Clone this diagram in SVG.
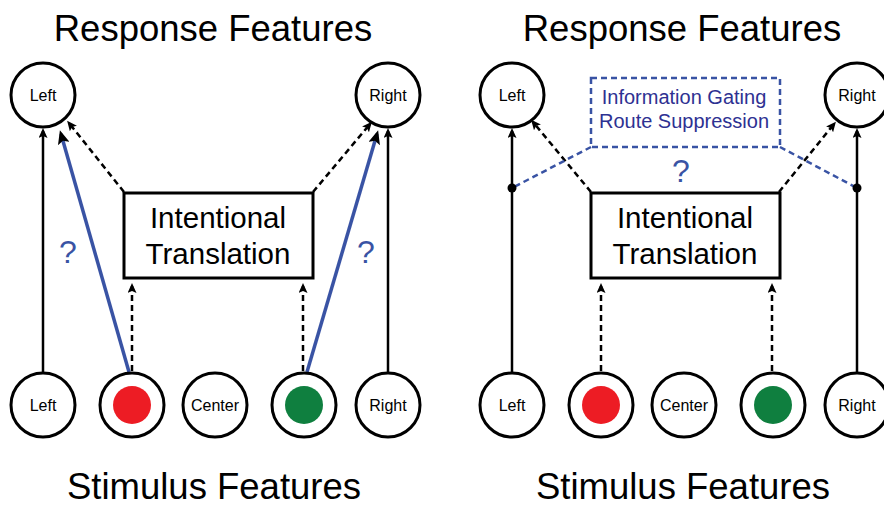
<svg xmlns="http://www.w3.org/2000/svg" width="884" height="507" viewBox="0 0 884 507">
<style>
text{font-family:"Liberation Sans",Arial,sans-serif;text-anchor:middle}
.title{font-size:36.5px;fill:#000}
.lbl{font-size:16px;fill:#000}
.box{fill:#fff;stroke:#000;stroke-width:3}
.node{fill:#fff;stroke:#000;stroke-width:3}
.solid{stroke:#000;stroke-width:2.5;fill:none}
.dash{stroke:#000;stroke-width:2.5;fill:none;stroke-dasharray:6 4}
.blue{stroke:#3953a4;stroke-width:3.5;fill:none}
.bdash{stroke:#3953a4;stroke-width:2.5;fill:none;stroke-dasharray:6 4}
.big{font-size:29.5px;fill:#000}
.q{font-size:32px;fill:#3953a4}
.gate{font-size:20px;fill:#2e3192}
</style>
<defs>
<marker id="ah" markerUnits="userSpaceOnUse" markerWidth="10" markerHeight="9" refX="7" refY="4.5" orient="auto">
<path d="M0,0 L10,4.5 L0,9 L2,4.5 z" fill="#000"/>
</marker>
<marker id="ahb" markerUnits="userSpaceOnUse" markerWidth="14" markerHeight="12" refX="10" refY="6" orient="auto">
<path d="M0,0 L14,6 L0,12 L3,6 z" fill="#000"/>
</marker>
</defs>

<text class="title" x="213" y="41">Response Features</text>
<text class="title" x="682" y="41">Response Features</text>
<text class="title" x="214" y="499">Stimulus Features</text>
<text class="title" x="683" y="499">Stimulus Features</text>

<g id="connectors">
<line class="solid" x1="43" y1="372" x2="43" y2="131" marker-end="url(#ah)"/>
<line class="solid" x1="388" y1="372" x2="388" y2="131" marker-end="url(#ah)"/>
<line class="blue" x1="129" y1="372" x2="61" y2="134" marker-end="url(#ahb)"/>
<line class="blue" x1="307" y1="372" x2="377" y2="134" marker-end="url(#ahb)"/>
<line class="dash" x1="124" y1="192" x2="69" y2="123" marker-end="url(#ah)"/>
<line class="dash" x1="313" y1="192" x2="370" y2="124" marker-end="url(#ah)"/>
<line class="dash" x1="132" y1="371" x2="132" y2="286" marker-end="url(#ah)"/>
<line class="dash" x1="303" y1="371" x2="303" y2="286" marker-end="url(#ah)"/>
<line class="solid" x1="512" y1="372" x2="512" y2="131" marker-end="url(#ah)"/>
<line class="solid" x1="857" y1="372" x2="857" y2="131" marker-end="url(#ah)"/>
<line class="dash" x1="591" y1="192" x2="533" y2="122" marker-end="url(#ah)"/>
<line class="dash" x1="779" y1="192" x2="834" y2="124" marker-end="url(#ah)"/>
<line class="dash" x1="601" y1="371" x2="601" y2="286" marker-end="url(#ah)"/>
<line class="dash" x1="772" y1="371" x2="772" y2="286" marker-end="url(#ah)"/>
<line class="bdash" x1="591" y1="147" x2="512" y2="188"/>
<line class="bdash" x1="780" y1="147" x2="857" y2="188"/>
<circle cx="512" cy="188" r="4.5" fill="#000"/>
<circle cx="857" cy="188" r="4.5" fill="#000"/>
</g>

<text class="q" x="68" y="263">?</text>
<text class="q" x="366" y="263">?</text>
<text class="q" x="681" y="182">?</text>

<g id="resp-left-L"><circle class="node" cx="43" cy="95" r="32"/><text class="lbl" x="43" y="101">Left</text></g>
<g id="resp-left-R"><circle class="node" cx="388" cy="95" r="32"/><text class="lbl" x="388" y="101">Right</text></g>
<g id="resp-right-L"><circle class="node" cx="512" cy="95" r="32"/><text class="lbl" x="512" y="101">Left</text></g>
<g id="resp-right-R"><circle class="node" cx="857" cy="95" r="32"/><text class="lbl" x="857" y="101">Right</text></g>

<g id="trans-left"><rect class="box" x="124" y="193" width="189" height="85"/><text class="big" x="218" y="228">Intentional</text><text class="big" x="218" y="264">Translation</text></g>
<g id="trans-right"><rect class="box" x="591" y="193" width="189" height="85"/><text class="big" x="685" y="228">Intentional</text><text class="big" x="685" y="264">Translation</text></g>

<g id="gating"><rect x="591" y="78" width="189" height="69" fill="#fff" stroke="#3953a4" stroke-width="2.5" stroke-dasharray="6 4"/><text class="gate" x="684" y="104">Information Gating</text><text class="gate" x="684" y="128">Route Suppression</text></g>

<g id="stim-left-L"><circle class="node" cx="43" cy="405" r="32"/><text class="lbl" x="43" y="411">Left</text></g>
<g id="stim-left-red"><circle class="node" cx="132" cy="405" r="32"/><circle cx="132" cy="405" r="19" fill="#ed1c24"/></g>
<g id="stim-left-C"><circle class="node" cx="215" cy="405" r="32"/><text class="lbl" x="215" y="411">Center</text></g>
<g id="stim-left-green"><circle class="node" cx="304" cy="405" r="32"/><circle cx="304" cy="405" r="19" fill="#0f7f3f"/></g>
<g id="stim-left-R"><circle class="node" cx="388" cy="405" r="32"/><text class="lbl" x="388" y="411">Right</text></g>

<g id="stim-right-L"><circle class="node" cx="512" cy="405" r="32"/><text class="lbl" x="512" y="411">Left</text></g>
<g id="stim-right-red"><circle class="node" cx="601" cy="405" r="32"/><circle cx="601" cy="405" r="19" fill="#ed1c24"/></g>
<g id="stim-right-C"><circle class="node" cx="684" cy="405" r="32"/><text class="lbl" x="684" y="411">Center</text></g>
<g id="stim-right-green"><circle class="node" cx="773" cy="405" r="32"/><circle cx="773" cy="405" r="19" fill="#0f7f3f"/></g>
<g id="stim-right-R"><circle class="node" cx="857" cy="405" r="32"/><text class="lbl" x="857" y="411">Right</text></g>
</svg>
